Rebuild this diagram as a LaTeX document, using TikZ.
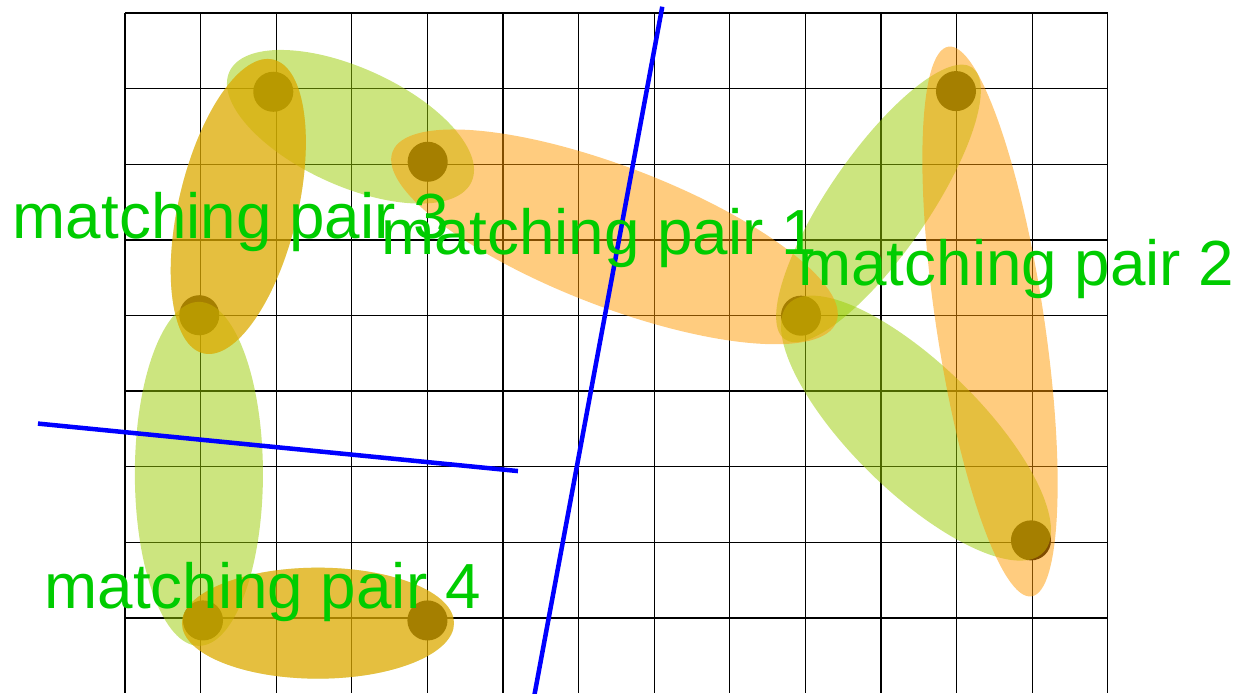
\documentclass[tikz,border=0pt]{standalone}
\usepackage{fontspec}
\usepackage{tikz}
\newfontfamily\labelfont{Liberation Sans}
\definecolor{pairgreen}{HTML}{99CC00}
\definecolor{pairorange}{HTML}{FF9900}
\definecolor{labelgreen}{HTML}{00CC00}
\tikzstyle{gridline} = [draw=black, line width=0.5pt]
\tikzstyle{pairdot} = [circle, fill=black, minimum size=0.53cm, inner sep=0pt]
\tikzstyle{greenpair} = [fill=pairgreen, fill opacity=0.5]
\tikzstyle{orangepair} = [fill=pairorange, fill opacity=0.5]
\tikzstyle{cutline} = [draw=blue, line width=1.7pt]
\tikzstyle{pairlabel} = [
  anchor=base west, inner sep=0pt, text=labelgreen,
  font=\labelfont\fontsize{24}{28}\selectfont
]

\begin{document}
\begin{tikzpicture}

  \useasboundingbox (-1.653,0) rectangle (14.762,9.173);

  % Grid
  \draw[gridline] (0,0.01) grid (13,9);

  % Points
  \node[pairdot] (ptA) at (1.962,7.959) {};
  \node[pairdot] (ptB) at (4.004,7.033) {};
  \node[pairdot] (ptC) at (0.983,5.003) {};
  \node[pairdot] (ptD) at (8.942,4.997) {};
  \node[pairdot] (ptE) at (10.992,7.968) {};
  \node[pairdot] (ptF) at (11.984,2.025) {};
  \node[pairdot] (ptG) at (1.032,0.966) {};
  \node[pairdot] (ptH) at (4.001,0.966) {};

  % Green pairs
  \fill[greenpair, shift={(2.983,7.496)}, rotate=-24.4] (0,0) ellipse (1.759 and 0.780);
  \fill[greenpair, shift={(1.499,6.442)}, rotate=76.6] (0,0) ellipse (1.997 and 0.786);
  \fill[greenpair, shift={(0.978,2.905)}, rotate=90] (0,0) ellipse (2.275 and 0.847);
  \fill[greenpair, shift={(2.553,0.930)}] (0,0) ellipse (1.799 and 0.734);
  \fill[greenpair, shift={(9.967,6.482)}, rotate=55.4] (0,0) ellipse (2.183 and 0.661);
  \fill[greenpair, shift={(10.463,3.510)}, rotate=-44.3] (0,0) ellipse (2.354 and 0.847);

  % Orange pairs
  \fill[orangepair, shift={(1.499,6.442)}, rotate=76.6] (0,0) ellipse (1.997 and 0.786);
  \fill[orangepair, shift={(2.553,0.930)}] (0,0) ellipse (1.799 and 0.734);
  \fill[orangepair, shift={(6.475,6.040)}, rotate=-21] (0,0) ellipse (3.144 and 0.926);
  \fill[orangepair, shift={(11.442,4.920)}, rotate=98.6] (0,0) ellipse (3.677 and 0.714);

  % Separating lines
  \coordinate (cutL1) at (-1.151,3.570);
  \coordinate (cutL2) at (5.198,2.942);
  \coordinate (cutT1) at (7.107,9.084);
  \coordinate (cutT2) at (5.401,-0.1);
  \draw[cutline] (cutL1) -- (cutL2);
  \draw[cutline] (cutT1) -- (cutT2);

  % Labels
  \node[pairlabel] (lbl3) at (-1.49,6.019) {matching pair 3};
  \node[pairlabel] (lbl1) at (3.38,5.811) {matching pair 1};
  \node[pairlabel] (lbl2) at (8.90,5.400) {matching pair 2};
  \node[pairlabel] (lbl4) at (-1.07,1.129) {matching pair 4};

\end{tikzpicture}
\end{document}
